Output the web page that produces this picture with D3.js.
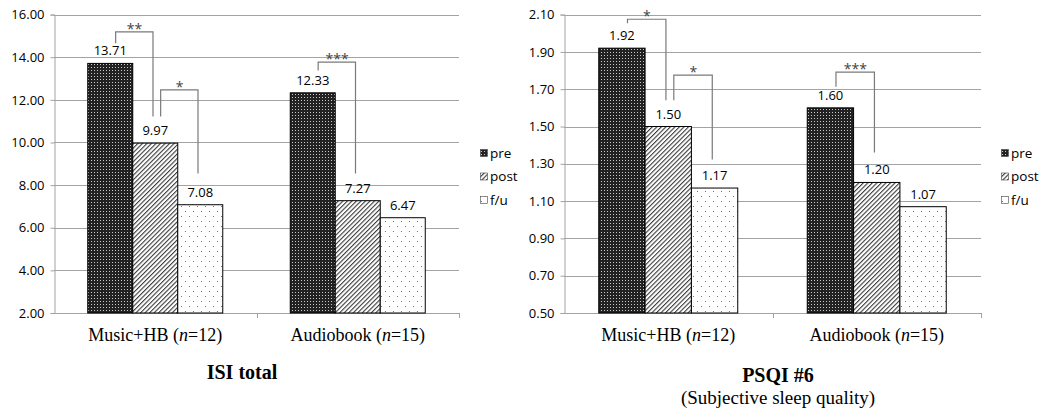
<!DOCTYPE html>
<html>
<head>
<meta charset="utf-8">
<script src="https://cdn.jsdelivr.net/npm/d3@7"></script>
<style>
  body { margin: 0; background: #fff; }
  svg { display: block; }
  .tick text { font-family: "Open Sans", sans-serif; font-size: 13px; fill: #000; }
  .val { font-family: "Open Sans", sans-serif; font-size: 13px; fill: #000; text-anchor: middle; }
  .sig { font-family: "Open Sans", sans-serif; font-size: 14px; fill: #444; text-anchor: middle; }
  .leg { font-family: "Open Sans", sans-serif; font-size: 13.5px; fill: #000; }
  .cat { font-family: "Liberation Serif", "Times New Roman", serif; font-size: 18px; fill: #000; text-anchor: middle; }
  .ttl { font-family: "Liberation Serif", "Times New Roman", serif; font-weight: bold; font-size: 20px; fill: #000; text-anchor: middle; }
  .sub { font-family: "Liberation Serif", "Times New Roman", serif; font-size: 19px; fill: #000; text-anchor: middle; }
</style>
</head>
<body>
<div id="graph"></div>
<script>
// groups and series
var groups = ["Music+HB", "Audiobook"];
var groupN = [12, 15];
var series = ["pre", "post", "f/u"];

// ISI total means
var isiValues = [
  [13.71, 9.97, 7.08],
  [12.33, 7.27, 6.47]
];
var isiTicks = [2, 4, 6, 8, 10, 12, 14, 16];

// PSQI #6 means
var psqiValues = [
  [1.92, 1.50, 1.17],
  [1.60, 1.20, 1.07]
];
var psqiTicks = [0.5, 0.7, 0.9, 1.1, 1.3, 1.5, 1.7, 1.9, 2.1];

// significance brackets: group, from, to, top level, end of left leg, end of right leg
var isiBrackets = [
  { group: "Music+HB", from: "pre", to: "post", top: 15.19, left: 14.65, right: 11.22, label: "**" },
  { group: "Music+HB", from: "post", to: "f/u", top: 12.47, left: 11.22, right: 8.54, label: "*" },
  { group: "Audiobook", from: "pre", to: "post", top: 13.77, left: 13.38, right: 8.54, label: "***" }
];
var psqiBrackets = [
  { group: "Music+HB", from: "pre", to: "post", top: 2.075, left: 2.054, right: 1.641, label: "*" },
  { group: "Music+HB", from: "post", to: "f/u", top: 1.776, left: 1.641, right: 1.323, label: "*" },
  { group: "Audiobook", from: "pre", to: "post", top: 1.792, left: 1.713, right: 1.36, label: "***" }
];

var width = 1042, height = 413;

var svg = d3.select('#graph').append('svg')
  .attr('width', width)
  .attr('height', height);

// fill patterns for the three series
var defs = svg.append('defs');

var p1 = defs.append('pattern').attr('id', 'pat-pre')
  .attr('patternUnits', 'userSpaceOnUse').attr('width', 3).attr('height', 3);
p1.append('rect').attr('width', 3).attr('height', 3).attr('fill', '#222');
p1.append('rect').attr('x', 1).attr('y', 1).attr('width', 1).attr('height', 1).attr('fill', '#c8c8c8');

var p2 = defs.append('pattern').attr('id', 'pat-post')
  .attr('patternUnits', 'userSpaceOnUse').attr('width', 3.2).attr('height', 3.2)
  .attr('patternTransform', 'rotate(45)');
p2.append('rect').attr('width', 3.2).attr('height', 3.2).attr('fill', '#fff');
p2.append('rect').attr('width', 1.1).attr('height', 3.2).attr('fill', '#3a3a3a');

var p3 = defs.append('pattern').attr('id', 'pat-fu')
  .attr('patternUnits', 'userSpaceOnUse').attr('width', 8).attr('height', 10);
p3.append('rect').attr('width', 8).attr('height', 10).attr('fill', '#fff');
p3.append('rect').attr('x', 1).attr('y', 1).attr('width', 1).attr('height', 1).attr('fill', '#777');
p3.append('rect').attr('x', 5).attr('y', 6).attr('width', 1).attr('height', 1).attr('fill', '#777');

var fills = { "pre": "url(#pat-pre)", "post": "url(#pat-post)", "f/u": "url(#pat-fu)" };

function drawChart(cfg) {
  var g = svg.append('g');

  var xScale = d3.scaleBand().domain(groups).range([cfg.left, cfg.right]);
  var xSub = d3.scaleBand().domain(series).range([0, xScale.bandwidth()])
    .paddingInner(0).paddingOuter(0.75);
  var yScale = d3.scaleLinear().domain(cfg.domain).range([313, 14.6]);

  // gridlines
  g.append('g').selectAll('line')
    .data(cfg.ticks.slice(1))
    .enter().append('line')
    .attr('x1', cfg.left).attr('x2', cfg.right)
    .attr('y1', function(d) { return Math.round(yScale(d)) + 0.5; })
    .attr('y2', function(d) { return Math.round(yScale(d)) + 0.5; })
    .attr('stroke', '#a3a3a3').attr('stroke-width', 1);

  // y axis
  var yAxis = d3.axisLeft(yScale).tickValues(cfg.ticks).tickSize(4).tickPadding(6)
    .tickFormat(d3.format('.2f'));
  g.append('g')
    .attr('transform', 'translate(' + (cfg.left + 0.5) + ',0)')
    .call(yAxis)
    .call(function(a) {
      a.selectAll('line, path').attr('stroke', '#a3a3a3');
    });

  // x axis with ticks at group boundaries
  g.append('line')
    .attr('x1', cfg.left).attr('x2', cfg.right)
    .attr('y1', 313.5).attr('y2', 313.5)
    .attr('stroke', '#a3a3a3');
  g.append('g').selectAll('line')
    .data(groups)
    .enter().append('line')
    .attr('x1', function(d) { return Math.round(xScale(d) + xScale.bandwidth()) + 0.5; })
    .attr('x2', function(d) { return Math.round(xScale(d) + xScale.bandwidth()) + 0.5; })
    .attr('y1', 313).attr('y2', 318)
    .attr('stroke', '#a3a3a3');

  // bars
  var rows = [];
  groups.forEach(function(gr, i) {
    series.forEach(function(s, j) {
      rows.push({ group: gr, series: s, value: cfg.values[i][j] });
    });
  });

  g.append('g').selectAll('rect')
    .data(rows)
    .enter().append('rect')
    .attr('x', function(d) { return xScale(d.group) + xSub(d.series); })
    .attr('y', function(d) { return yScale(d.value); })
    .attr('width', xSub.bandwidth())
    .attr('height', function(d) { return yScale(cfg.domain[0]) - yScale(d.value); })
    .attr('fill', function(d) { return fills[d.series]; })
    .attr('stroke', '#000').attr('stroke-width', 1);

  // value labels
  g.append('g').selectAll('text')
    .data(rows)
    .enter().append('text')
    .attr('class', 'val')
    .attr('x', function(d) { return xScale(d.group) + xSub(d.series) + xSub.bandwidth() / 2; })
    .attr('y', function(d) { return yScale(d.value) - 8; })
    .text(function(d) { return d.value.toFixed(2); });

  // significance brackets
  function cx(gr, s) { return xScale(gr) + xSub(s) + xSub.bandwidth() / 2; }
  var br = g.append('g').selectAll('g')
    .data(cfg.brackets)
    .enter().append('g');
  br.append('path')
    .attr('fill', 'none').attr('stroke', '#7a7a7a').attr('stroke-width', 1.2)
    .attr('d', function(d) {
      var x1 = cx(d.group, d.from) + xSub.bandwidth() * 0.12;
      var x2 = cx(d.group, d.to) - xSub.bandwidth() * 0.05;
      return 'M' + x1 + ',' + yScale(d.left) + 'V' + yScale(d.top) +
        'H' + x2 + 'V' + yScale(d.right);
    });
  br.append('text')
    .attr('class', 'sig')
    .attr('x', function(d) {
      return (cx(d.group, d.from) + cx(d.group, d.to)) / 2 + xSub.bandwidth() * 0.04;
    })
    .attr('y', function(d) { return yScale(d.top) + 2; })
    .text(function(d) { return d.label; });

  // category labels
  var cl = g.append('g').selectAll('text')
    .data(groups)
    .enter().append('text')
    .attr('class', 'cat')
    .attr('x', function(d) { return xScale(d) + xScale.bandwidth() / 2; })
    .attr('y', 341);
  cl.append('tspan').text(function(d) { return d + ' ('; });
  cl.append('tspan').attr('font-style', 'italic').text('n');
  cl.append('tspan').text(function(d, i) { return '=' + groupN[i] + ')'; });

  // legend
  var leg = g.append('g').selectAll('g')
    .data(series)
    .enter().append('g')
    .attr('transform', function(d, i) { return 'translate(' + cfg.legendX + ',' + (153 + i * 23.5) + ')'; });
  leg.append('rect')
    .attr('x', 0.5).attr('y', -3.5).attr('width', 7).attr('height', 7)
    .attr('fill', function(d) { return fills[d]; })
    .attr('stroke', '#444').attr('stroke-width', 0.6);
  leg.append('text')
    .attr('class', 'leg')
    .attr('x', 10).attr('y', 4.5)
    .text(function(d) { return d; });

  // title
  g.append('text').attr('class', 'ttl')
    .attr('x', cfg.titleX).attr('y', cfg.titleY)
    .text(cfg.title);
  if (cfg.subtitle) {
    g.append('text').attr('class', 'sub')
      .attr('x', cfg.titleX).attr('y', 404)
      .text(cfg.subtitle);
  }
}

drawChart({
  left: 54, right: 459, domain: [2, 16], ticks: isiTicks,
  values: isiValues, brackets: isiBrackets, legendX: 480,
  title: "ISI total", titleX: 242, titleY: 379
});

drawChart({
  left: 564, right: 981, domain: [0.5, 2.1], ticks: psqiTicks,
  values: psqiValues, brackets: psqiBrackets, legendX: 1001,
  title: "PSQI #6", subtitle: "(Subjective sleep quality)", titleX: 778, titleY: 382
});
</script>
</body>
</html>
